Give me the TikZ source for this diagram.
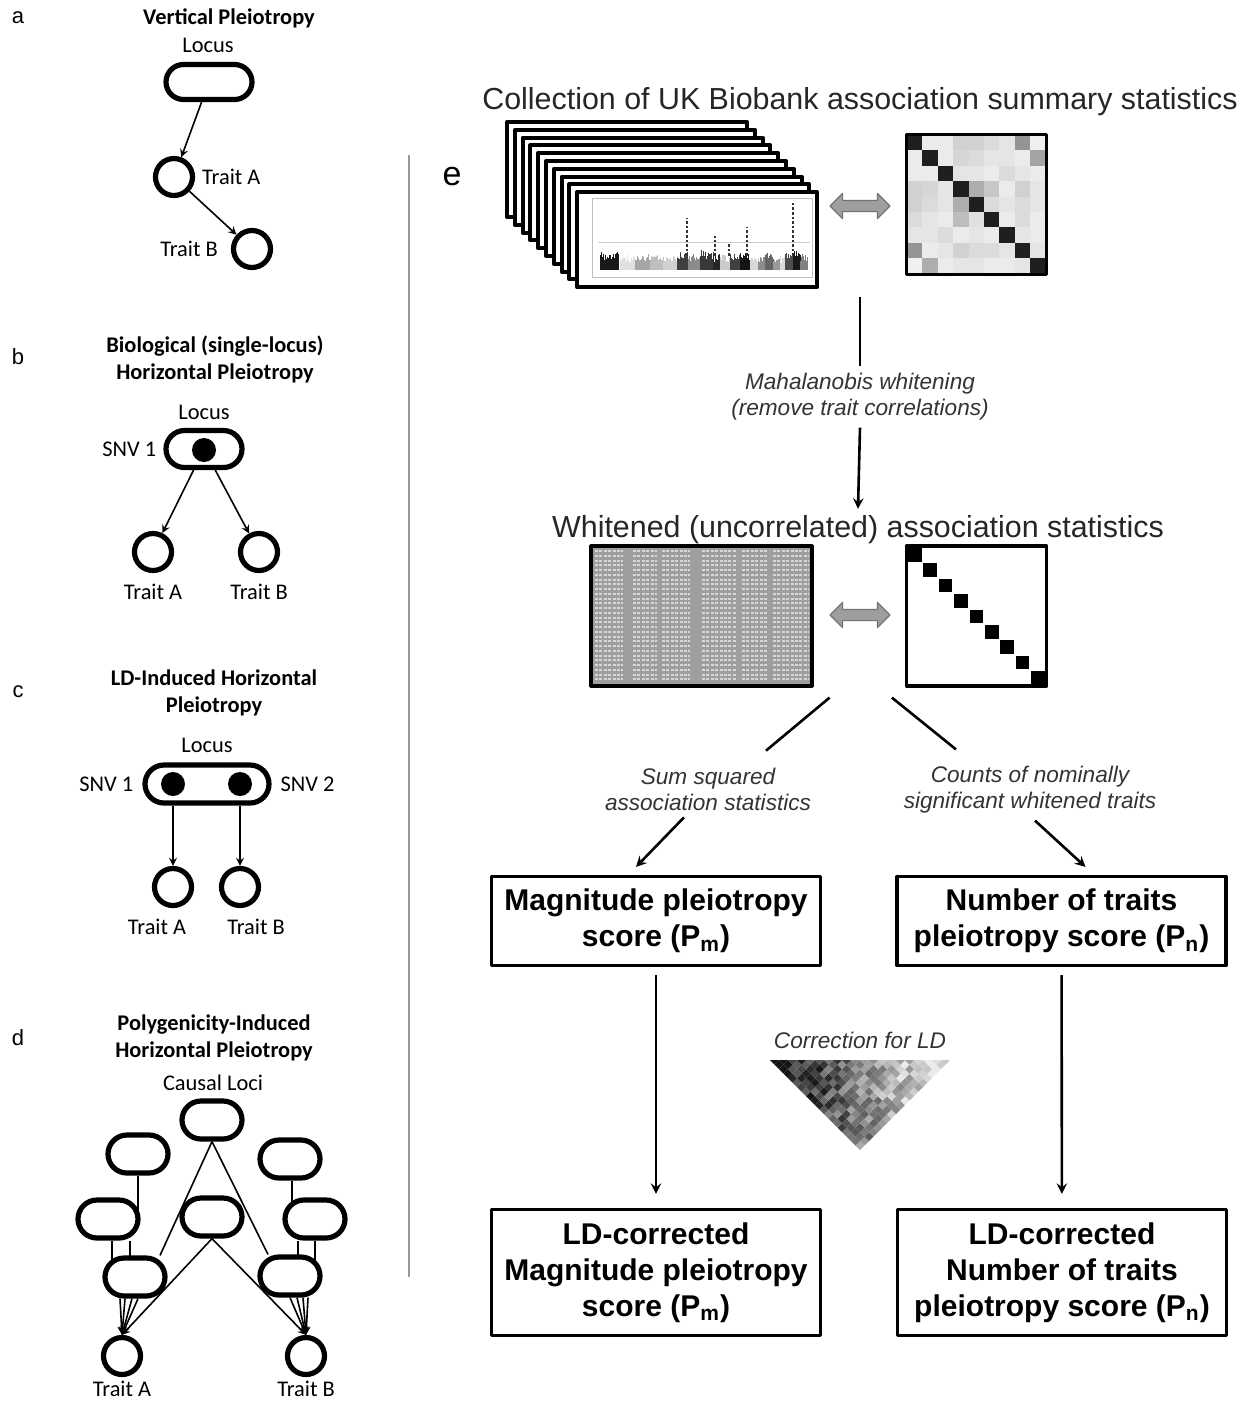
\documentclass[tikz,border=0pt]{standalone}
\usepackage{fontspec}
\setmainfont{Liberation Sans}
\newfontfamily\calfont{Carlito}
\usetikzlibrary{positioning,shapes.misc,shapes.arrows,backgrounds}

\tikzset{
  locus/.style={draw,rounded rectangle,line width=2.6pt,fill=white,minimum height=17.5pt,inner sep=0pt},
  dbox/.style={locus,minimum width=30pt,minimum height=19pt},
  trait/.style={draw,circle,line width=2.6pt,fill=white,minimum size=18.5pt,inner sep=0pt},
  snv/.style={fill,circle,minimum size=12pt,inner sep=0pt},
  lbl/.style={font=\calfont\fontsize{11.2}{13}\selectfont},
  ttl/.style={font=\calfont\bfseries\fontsize{11.2}{13.5}\selectfont,align=center},
  panel/.style={font=\fontsize{11}{13}\selectfont},
  edge/.style={line width=0.8pt},
  flow/.style={line width=1.3pt},
  card/.style={draw,line width=2pt,fill=white},
  scorebox/.style={draw,line width=1.6pt,align=center,inner sep=0pt,font=\bfseries\fontsize{15}{18}\selectfont,minimum width=164.5pt},
  note/.style={font=\itshape\fontsize{11.3}{13}\selectfont,align=center,text=black!80},
  bigtxt/.style={font=\fontsize{15.2}{18}\selectfont,text=black!85},
  swap/.style={double arrow,draw=black!55,fill=black!38,line width=0.6pt,minimum height=30pt,inner sep=2.5pt,double arrow head extend=3.5pt},
}

\begin{document}
\begin{tikzpicture}[x=0.5pt,y=-0.5pt,>=stealth,line join=round]
\useasboundingbox (0,0) rectangle (1247,1405);

% ---------- a: vertical
\node[panel] at (18,18) {a};
\node[ttl] at (229,18) {Vertical Pleiotropy};
\node[lbl] at (208,45) {Locus};
\node[locus,minimum width=43pt] (loca) at (209,82) {};
\node[trait] (ta1) at (174,177) {};
\node[trait] (ta2) at (252,249) {};
\node[lbl,right=0pt of ta1] {Trait A};
\node[lbl,left=3pt of ta2] {Trait B};
\draw[->,edge] (loca) -- (ta1);
\draw[->,edge] (ta1) -- (ta2);

% ---------- b: biological
\node[panel] at (18,357) {b};
\node[ttl] at (215,359) {Biological (single-locus)\\Horizontal Pleiotropy};
\node[lbl] at (204,412) {Locus};
\node[locus,minimum width=38pt,minimum height=18.5pt] (locb) at (204,449) {};
\node[snv] (sb) at (204,450) {};
\node[lbl,left=0pt of locb] {SNV 1};
\node[trait] (tb1) at (153,552) {};
\node[trait] (tb2) at (259,552) {};
\node[lbl,below=2pt of tb1] {Trait A};
\node[lbl,below=2pt of tb2] {Trait B};
\draw[->,edge] (locb) -- (tb1);
\draw[->,edge] (locb) -- (tb2);

% ---------- c: LD-induced
\node[panel] at (18,692) {c};
\node[ttl] at (214,693) {LD-Induced Horizontal\\Pleiotropy};
\node[lbl] at (207,745) {Locus};
\node[locus,minimum width=62pt,minimum height=19pt] (locc) at (207,784) {};
\node[snv] (sc1) at (173,784) {};
\node[snv] (sc2) at (240,784) {};
\node[lbl,left=1pt of locc] {SNV 1};
\node[lbl,right=1pt of locc] {SNV 2};
\node[trait] (tc1) at (173,887) {};
\node[trait] (tc2) at (240,887) {};
\node[lbl,below=2pt of tc1,xshift=-8pt] {Trait A};
\node[lbl,below=2pt of tc2,xshift=8pt] {Trait B};
\draw[->,edge] (sc1 |- locc.south) -- (tc1);
\draw[->,edge] (sc2 |- locc.south) -- (tc2);

% ---------- d: polygenicity
\node[panel] at (18,1038) {d};
\node[ttl] at (214,1038) {Polygenicity-Induced\\Horizontal Pleiotropy};
\node[lbl] at (213,1083) {Causal Loci};
\node[dbox] (dtop) at (212,1120) {};
\node[dbox] (dul) at (138,1154) {};
\node[dbox] (dur) at (290,1159) {};
\node[dbox] (dml) at (108,1219) {};
\node[dbox] (dmc) at (212,1217) {};
\node[dbox] (dmr) at (315,1219) {};
\node[dbox] (dll) at (135,1277) {};
\node[dbox] (dlr) at (290,1276) {};
\node[trait] (td1) at (122,1356) {};
\node[trait] (td2) at (306,1356) {};
\node[lbl,below=-1.5pt of td1] {Trait A};
\node[lbl,below=-1.5pt of td2] {Trait B};
\begin{scope}[on background layer]
  \draw[edge] (dul.south) -- (dul.south |- dml.center);
  \draw[edge] ([xshift=1pt]dur.south) -- ([xshift=1pt]dur.south |- dmr.center);
  \draw[edge] ([xshift=2pt]dml.south) -- ([xshift=2pt]dml.south |- dll.center);
  \draw[edge] ([xshift=11pt]dml.south) -- ([xshift=11pt]dml.south |- dll.center);
  \draw[edge] ([xshift=-8.5pt]dmr.south) -- ([xshift=-8.5pt]dmr.south |- dlr.center);
  \draw[edge] (dmr.south) -- (dmr.south |- dlr.center);
  \draw[edge] (dtop.south) -- ([xshift=12.5pt]dll.north);
  \draw[edge] (dtop.south) -- ([xshift=-11pt]dlr.north);
\end{scope}
\draw[->,edge] (dmc.south) -- (td1.north);
\draw[->,edge] (dmc.south) -- (td2.north);
\foreach \s in {-7.5,-5,-1.5,1.5}
  \draw[->,edge] ([xshift=\s pt]dll.south) -- (td1.north);
\foreach \s in {0,3.5,6.5,9}
  \draw[->,edge] ([xshift=\s pt]dlr.south) -- (td2.north);

% separator
\draw[black!40,line width=1.2pt] (409,155) -- (409,1277);

% ---------- e: pipeline
\node[font=\fontsize{17}{20}\selectfont] at (452,177) {e};
\node[bigtxt] (coll) at (860,102) {Collection of UK Biobank association summary statistics};

% stack of Manhattan plots
\foreach \i in {0,...,9}
  \draw[card] ({507+7.8*\i},{122+7.8*\i}) rectangle ++(240,95);
\draw[black!25,line width=0.4pt] (592,198) rectangle (812,277);
\draw[black!20,line width=0.4pt] (598,242) -- (810,242);
\pgfmathsetseed{11}
\foreach \xa/\xb/\g/\h in {600/618/90/16,620/635/12/13,635/650/35/15,650/663/25/14,663/677/18/13,677/688/75/17,
    688/700/45/15,700/713/78/18,713/720/85/14,720/730/20/13,730/740/75/15,740/750/92/16,750/758/15/12,
    758/765/45/13,765/773/60/15,773/780/40/13,780/785/15/12,785/793/70/15,793/800/90/17,800/807/50/14}{
  \fill[black!\g] (\xa,270) rectangle (\xb,{270-0.6*\h});
  \foreach \xx in {\xa,...,\xb}{
    \pgfmathsetmacro\hh{\h*(0.6+0.55*rnd)}
    \fill[black!\g] (\xx,270) rectangle ++(1,-\hh);
  }
}
\foreach \xs/\ys in {687/218,747/227,793/203,715/236,729/243}
  \draw[black!80,line width=1.3pt,dash pattern=on 1.3pt off 1pt] (\xs,256) -- (\xs,\ys);

% trait correlation matrix
\foreach \row [count=\r from 0] in {{88,8,8,18,18,14,10,42,6},{8,88,8,16,14,10,10,8,36},{8,8,88,10,10,8,14,10,8},
    {18,16,10,88,32,22,8,18,10},{18,14,10,32,88,14,10,14,10},{14,10,8,26,12,88,8,14,8},
    {10,10,14,8,10,8,88,10,8},{42,8,10,18,14,14,10,88,10},{6,32,8,10,10,8,8,10,88}}
  \foreach \v [count=\c from 0] in \row
    \fill[black!\v] ({907+15.4*\c},{135+15.4*\r}) rectangle ++(15.4,15.4);
\node[draw,line width=1.6pt,minimum size=70pt,inner sep=0pt] (cmat) at (976.5,204.5) {};
\node[swap] (sw1) at (860,206) {};

\coordinate (st) at (860,297);
\node[note] (whiten) at (860,397) {Mahalanobis whitening\\(remove trait correlations)};
\node[bigtxt] (wtitle) at (858,530) {Whitened (uncorrelated) association statistics};
\draw[flow] (st) -- (whiten.north);
\draw[->,flow] (whiten.south) -- (wtitle.north);

% whitened statistics table
\node[draw,line width=1.6pt,fill=black!38,minimum width=110.5pt,minimum height=70pt,inner sep=0pt] (wtab) at (701.5,616) {};
\foreach \r in {0,...,27}{
  \pgfmathsetmacro\yy{551+4.75*\r}
  \draw[black!16,line width=1pt,dash pattern=on 1.5pt off 0.7pt]
    (595,\yy) -- (623,\yy) (633,\yy) -- (657,\yy) (662,\yy) -- (690,\yy)
    (702,\yy) -- (737,\yy) (742,\yy) -- (768,\yy) (773,\yy) -- (809,\yy);
}
% identity matrix
\node[draw,line width=1.6pt,minimum width=70pt,minimum height=70pt,inner sep=0pt] (wmat) at (976.5,616) {};
\foreach \i in {0,...,8}
  \fill ({908+15.4*\i},{548+15.4*\i}) rectangle ++(13.5,13.5);
\node[swap] (sw2) at (860,615) {};

% scores
\node[note] (sumsq) at (708,789) {Sum squared\\association statistics};
\node[note] (counts) at (1030,790) {Counts of nominally\\significant whitened traits};
\node[scorebox,minimum height=44.5pt] (pm) at (656,921) {Magnitude pleiotropy\\score (P\textsubscript{m})};
\node[scorebox,minimum height=44.5pt] (pn) at (1061.5,921) {Number of traits\\pleiotropy score (P\textsubscript{n})};
\draw[flow] ([xshift=8pt,yshift=-5pt]wtab.south east) -- ([xshift=29pt,yshift=5pt]sumsq.north);
\draw[flow] ([xshift=-6.5pt,yshift=-5pt]wmat.south west) -- ([xshift=-37pt,yshift=5pt]counts.north);
\draw[->,flow] ([xshift=-12pt]sumsq.south) -- ([xshift=-10pt,yshift=4pt]pm.north);
\draw[->,flow] ([xshift=2.5pt]counts.south) -- ([xshift=12pt,yshift=4pt]pn.north);

% LD correction
\node[note] (ldnote) at (860,1040) {Correction for LD};
\begin{scope}
  \clip (770,1060) -- (950,1060) -- (860,1150) -- cycle;
  \pgfmathsetseed{3}
  \foreach \a in {0,...,19}
    \foreach \b in {0,...,19}{
      \pgfmathsetmacro\g{min(92,max(8,50+2.4*(\a-\b)+40*(rnd-0.5)))}
      \fill[black!\g] ({860-4.5*\a+4.5*\b},{1150-4.5*\a-4.5*\b}) -- ++(-4.5,-4.5) -- ++(4.5,-4.5) -- ++(4.5,4.5) -- cycle;
    }
\end{scope}

\node[scorebox,minimum height=63pt] (pmc) at (656,1272.5) {LD-corrected\\Magnitude pleiotropy\\score (P\textsubscript{m})};
\node[scorebox,minimum height=63pt] (pnc) at (1062,1272.5) {LD-corrected\\Number of traits\\pleiotropy score (P\textsubscript{n})};
\draw[->,flow,shorten <=4pt,shorten >=7pt] (pm) -- (pmc);
\draw[->,flow,shorten <=4pt,shorten >=7pt] (pn) -- (pnc);
\end{tikzpicture}
\end{document}
